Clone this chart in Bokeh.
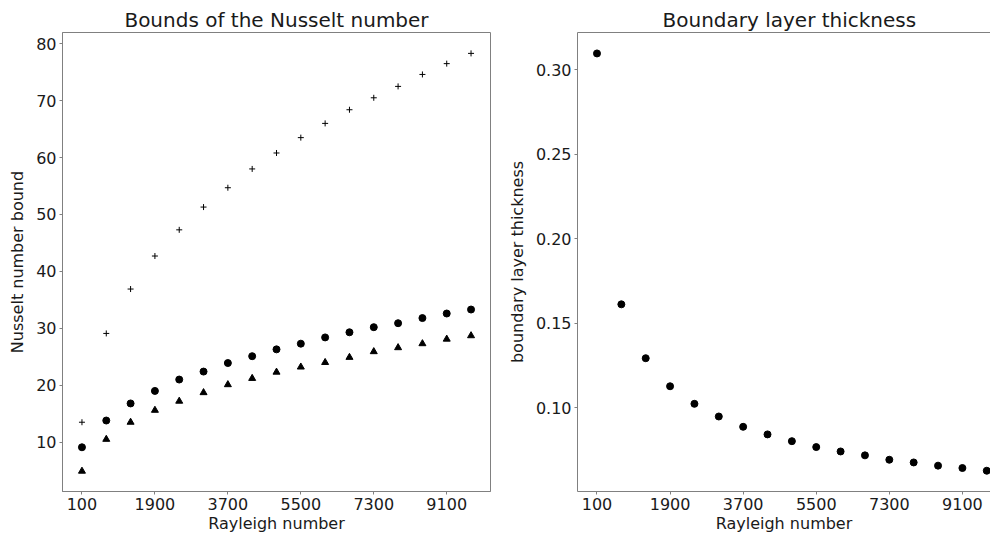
from bokeh.plotting import figure
from bokeh.layouts import row
from bokeh.models import Range1d, FixedTicker, LinearAxis, NumeralTickFormatter
from bokeh.embed import file_html
from bokeh.resources import INLINE

# Data
rayleigh = [100, 700, 1300, 1900, 2500, 3100, 3700, 4300, 4900,
            5500, 6100, 6700, 7300, 7900, 8500, 9100, 9700]
nu_upper = [13.5, 29.1, 36.9, 42.7, 47.3, 51.3, 54.7, 58.0, 60.8,
            63.5, 66.0, 68.4, 70.5, 72.5, 74.6, 76.5, 78.3]
nu_mid = [9.1, 13.8, 16.8, 19.0, 21.0, 22.4, 23.9, 25.1, 26.3,
          27.3, 28.4, 29.3, 30.2, 30.9, 31.8, 32.6, 33.3]
nu_lower = [4.9, 10.5, 13.5, 15.6, 17.2, 18.7, 20.1, 21.2, 22.3,
            23.2, 24.0, 24.9, 25.9, 26.6, 27.3, 28.1, 28.7]
thickness = [0.3096, 0.1611, 0.1292, 0.1126, 0.1022, 0.0947, 0.0886, 0.0841, 0.0801,
             0.0766, 0.0740, 0.0717, 0.0691, 0.0675, 0.0656, 0.0642, 0.0626]

x_ticks = [100, 1900, 3700, 5500, 7300, 9100]
left_y_ticks = [10, 20, 30, 40, 50, 60, 70, 80]
right_y_ticks = [0.10, 0.15, 0.20, 0.25, 0.30]

FONT = "DejaVu Sans"
TXT = "#1a1a1a"
SPINE = "#808080"


def style(p, yticks):
    p.title.text_font = FONT
    p.title.text_font_size = "20px"
    p.title.text_font_style = "normal"
    p.title.text_color = TXT
    p.title.standoff = 2
    p.grid.visible = False
    p.background_fill_color = "white"
    p.border_fill_color = "white"
    for ax in (p.xaxis[0], p.yaxis[0]):
        ax.axis_label_text_font = FONT
        ax.axis_label_text_font_size = "16px"
        ax.axis_label_text_font_style = "normal"
        ax.axis_label_text_color = TXT
        ax.major_label_text_font = FONT
        ax.major_label_text_font_size = "16px"
        ax.major_label_text_color = TXT
        ax.axis_line_color = SPINE
        ax.major_tick_line_color = SPINE
        ax.major_tick_out = 3
        ax.major_tick_in = 0
        ax.minor_tick_out = 0
        ax.minor_tick_in = 0
        ax.major_label_standoff = 3
        ax.axis_label_standoff = 1
    p.yaxis[0].axis_label_standoff = 6
    p.xaxis[0].ticker = FixedTicker(ticks=x_ticks)
    p.yaxis[0].ticker = FixedTicker(ticks=yticks)


# Left: bounds of the Nusselt number
p1 = figure(title="Bounds of the Nusselt number", output_backend="svg",
            toolbar_location=None, frame_width=428, frame_height=459,
            min_border_left=62, min_border_right=10, min_border_top=32,
            min_border_bottom=0,
            x_range=Range1d(-380, 10180), y_range=Range1d(1.33, 81.97))
style(p1, left_y_ticks)
p1.title.align = "center"
p1.xaxis.axis_label = "Rayleigh number"
p1.yaxis.axis_label = "Nusselt number bound"
p1.outline_line_color = SPINE
p1.scatter(rayleigh, nu_upper, marker="cross", size=6, line_color="black", line_width=1)
p1.scatter(rayleigh, nu_mid, marker="circle", size=7, fill_color="black", line_color="black")
p1.scatter(rayleigh, nu_lower, marker="triangle", size=7, fill_color="black", line_color="black")

# Right: boundary layer thickness
p2 = figure(title="Boundary layer thickness", output_backend="svg",
            toolbar_location=None, frame_width=413, frame_height=459,
            min_border_left=77, min_border_right=0, min_border_top=32,
            min_border_bottom=0,
            x_range=Range1d(-380, 9792), y_range=Range1d(0.0503, 0.3220))
style(p2, right_y_ticks)
p2.title.align = "left"
p2.title.offset = 85
p2.yaxis[0].formatter = NumeralTickFormatter(format="0.00")
p2.xaxis.axis_label = "Rayleigh number"
p2.yaxis.axis_label = "boundary layer thickness"
p2.outline_line_color = None
top_axis = LinearAxis(ticker=FixedTicker(ticks=[]), axis_line_color=SPINE,
                      major_tick_out=0, major_tick_in=0, minor_tick_out=0,
                      minor_tick_in=0, major_label_text_font_size="0px",
                      major_label_standoff=0)
p2.add_layout(top_axis, "above")
p2.scatter(rayleigh, thickness, marker="circle", size=7, fill_color="black", line_color="black")

layout = row(p1, p2)
open("out.html", "w").write(file_html(layout, INLINE))
